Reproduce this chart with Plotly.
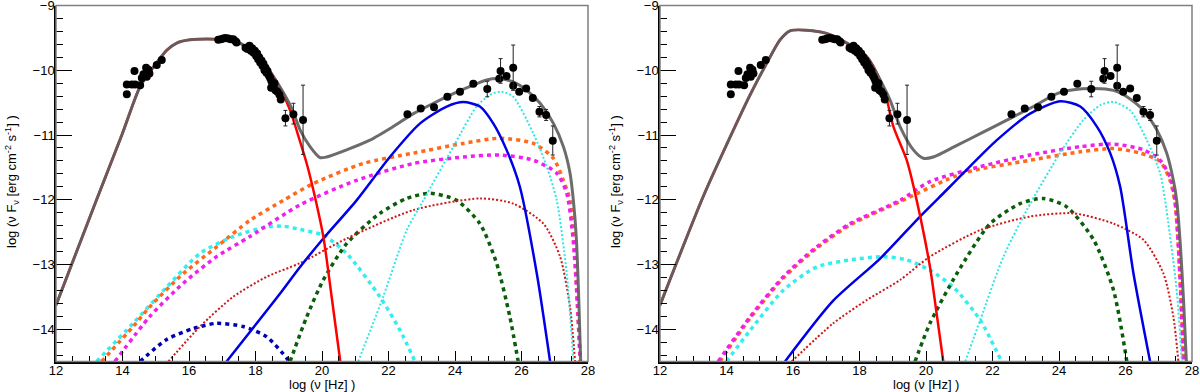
import plotly.graph_objects as go

# ---------------- observed SED points (same in both panels) ----------------
opt_x = [14.13, 14.13, 14.28, 14.38, 14.36, 14.53, 14.58, 14.63, 14.71, 14.73, 14.81, 14.78, 15.03, 15.18]
opt_y = [-10.37, -10.22, -10.22, -10.22, -10.01, -10.23, -10.12, -10.06, -9.96, -10.10, -10.05, -9.99, -9.92, -9.84]

xray_x = [16.88, 16.96, 17.03, 17.10, 17.18, 17.26, 17.33, 17.40, 17.43,
          17.70, 17.76, 17.82, 17.86, 17.90, 17.94, 17.98, 18.02, 18.05, 18.08,
          18.11, 18.14, 18.18, 18.21, 18.24, 18.27, 18.30, 18.33, 18.36, 18.40,
          18.44, 18.48, 18.52, 18.47, 18.55, 18.60, 18.66, 18.72, 18.76, 18.57]
xray_y = [-9.53, -9.52, -9.51, -9.50, -9.51, -9.52, -9.52, -9.55, -9.57,
          -9.65, -9.67, -9.62, -9.70, -9.66, -9.73, -9.70, -9.78, -9.74, -9.83,
          -9.80, -9.88, -9.85, -9.93, -9.90, -10.00, -9.96, -10.04, -10.01, -10.08,
          -10.12, -10.17, -10.22, -10.27, -10.27, -10.31, -10.33, -10.38, -10.45, -10.20]

hx_x = [18.90, 19.14, 19.43]
hx_y = [-10.74, -10.68, -10.77]
hx_up = [0.12, 0.17, 0.54]
hx_dn = [0.12, 0.15, 0.53]

gam_x = [22.57, 22.97, 23.37, 23.77, 24.15, 24.55, 25.33, 25.55, 25.75, 25.93, 26.14, 26.34]
gam_y = [-10.68, -10.59, -10.57, -10.41, -10.33, -10.21, -10.13, -10.09, -10.24, -10.33, -10.28, -10.43]

gam_err_x = [24.97, 25.37, 25.75, 26.54, 26.74, 26.94]
gam_err_y = [-10.29, -10.01, -9.96, -10.64, -10.69, -11.09]
gam_up = [0.12, 0.19, 0.35, 0.08, 0.085, 0.23]
gam_dn = [0.12, 0.19, 0.35, 0.08, 0.085, 0.22]

# ---------------- left panel model curves ----------------
L_total_x = [12, 13.22, 13.98, 14.53, 14.93, 15.33, 15.63, 16.03, 16.83, 17.13, 17.53, 18.14, 18.64,
             19.09, 19.34, 19.64, 19.94, 20.14, 20.74, 21.44, 22.14, 22.75, 23.35, 23.95, 24.55,
             24.95, 25.35, 25.75, 26.16, 26.56, 26.96, 27.26, 27.46, 27.56, 27.65, 27.72, 27.78]
L_total_y = [-13.63, -12.0, -11.0, -10.25, -9.95, -9.69, -9.58, -9.53, -9.52, -9.53, -9.58, -9.82, -10.18,
             -10.59, -10.92, -11.18, -11.35, -11.34, -11.23, -11.08, -10.87, -10.67, -10.51, -10.36, -10.23,
             -10.15, -10.13, -10.18, -10.31, -10.51, -10.82, -11.18, -11.59, -12.01, -12.6, -13.5, -14.5]

L_sync_x = [12, 13.22, 13.98, 14.53, 14.93, 15.33, 15.63, 16.03, 16.83, 17.13, 17.53, 18.14, 18.64,
            19.04, 19.34, 19.54, 19.74, 20.04, 20.29, 20.55]
L_sync_y = [-13.63, -12.0, -11.0, -10.25, -9.95, -9.69, -9.58, -9.53, -9.52, -9.53, -9.58, -9.82, -10.18,
            -10.62, -11.10, -11.44, -11.85, -12.57, -13.50, -14.5]

L_ssc_x = [17.13, 18.74, 19.34, 20.04, 21.04, 22.04, 22.95, 23.75, 24.25, 24.75, 25.15, 25.55, 25.95, 26.46, 26.86]
L_ssc_y = [-14.5, -13.45, -13.04, -12.60, -12.01, -11.34, -10.82, -10.56, -10.49, -10.56, -10.82, -11.23, -11.80, -13.14, -14.5]

L_cdot_x = [21.09, 21.84, 22.55, 23.05, 23.95, 24.65, 25.05, 25.40, 25.75, 26.36, 26.76, 27.06, 27.36, 27.56]
L_cdot_y = [-14.5, -13.50, -12.47, -12.01, -11.18, -10.56, -10.38, -10.33, -10.41, -10.98, -11.49, -12.01, -13.14, -14.5]

L_orange_x = [13.37, 14.32, 14.83, 15.83, 16.83, 17.83, 18.84, 19.74, 21.24, 22.75, 24.25, 25.35, 26.36,
              26.96, 27.26, 27.46, 27.6, 27.7, 27.76]
L_orange_y = [-14.5, -13.96, -13.65, -13.14, -12.73, -12.32, -12.01, -11.75, -11.44, -11.28, -11.13, -11.05, -11.13,
              -11.36, -11.70, -12.01, -12.8, -13.8, -14.5]

L_magenta_x = [13.77, 14.83, 15.83, 16.83, 17.83, 19.34, 21.04, 22.75, 24.25, 25.35, 26.36, 27.06, 27.36,
               27.55, 27.68, 27.77]
L_magenta_y = [-14.5, -13.80, -13.29, -12.88, -12.57, -12.08, -11.70, -11.44, -11.34, -11.31, -11.39, -11.59, -11.90,
               -12.6, -13.6, -14.5]

L_cdash_x = [13.22, 14.32, 15.33, 16.33, 17.33, 18.34, 18.84, 19.34, 20.04, 20.74, 21.74, 22.35, 22.80]
L_cdash_y = [-14.5, -13.91, -13.35, -12.83, -12.57, -12.42, -12.41, -12.46, -12.55, -12.83, -13.50, -14.02, -14.5]

L_bdash_x = [14.53, 15.33, 16.13, 16.83, 17.63, 18.34, 18.94, 19.0]
L_bdash_y = [-14.5, -14.16, -13.99, -13.91, -13.96, -14.12, -14.45, -14.5]

L_green_x = [19.04, 19.54, 20.04, 20.74, 21.74, 22.55, 23.25, 24.05, 24.75, 25.25, 25.65, 25.90]
L_green_y = [-14.5, -13.81, -13.24, -12.68, -12.21, -11.98, -11.90, -12.01, -12.37, -12.98, -13.81, -14.5]

L_rdot_x = [15.38, 16.33, 17.33, 18.34, 19.34, 20.74, 22.75, 24.75, 25.75, 26.66, 27.16, 27.46, 27.61]
L_rdot_y = [-14.5, -13.96, -13.50, -13.19, -12.98, -12.60, -12.16, -11.98, -12.06, -12.37, -12.88, -13.66, -14.5]

# ---------------- right panel model curves ----------------
R_total_x = [12, 13.30, 14.21, 14.71, 15.21, 15.61, 15.91, 16.41, 17.01, 17.62, 18.22, 18.62, 18.92,
             19.22, 19.62, 19.92, 20.22, 20.93, 21.63, 22.43, 23.23, 23.94, 24.44, 25.04, 25.64,
             26.04, 26.54, 26.94, 27.24, 27.44, 27.54, 27.65, 27.75, 27.83]
R_total_y = [-13.63, -11.95, -10.92, -10.38, -9.89, -9.53, -9.39, -9.38, -9.43, -9.58, -9.79, -10.15, -10.46,
             -10.87, -11.23, -11.36, -11.34, -11.16, -10.98, -10.77, -10.56, -10.36, -10.30, -10.28, -10.31,
             -10.41, -10.62, -10.92, -11.28, -11.70, -12.01, -12.7, -13.6, -14.5]

R_sync_x = [12, 13.30, 14.21, 14.71, 15.21, 15.61, 15.91, 16.41, 17.01, 17.62, 18.22, 18.62,
            18.82, 19.02, 19.42, 19.72, 20.12, 20.32, 20.52]
R_sync_y = [-13.63, -11.95, -10.92, -10.38, -9.89, -9.53, -9.39, -9.38, -9.43, -9.58, -9.79, -10.15,
            -10.45, -10.87, -11.39, -12.01, -13.04, -13.76, -14.5]

R_ssc_x = [15.76, 17.21, 18.62, 19.82, 20.62, 21.12, 22.13, 23.13, 24.03, 24.64, 25.14, 25.54, 25.84, 26.24, 26.74]
R_ssc_y = [-14.5, -13.56, -12.91, -12.26, -11.85, -11.59, -11.08, -10.67, -10.48, -10.56, -10.87, -11.28, -11.80, -13.14, -14.5]

R_cdot_x = [21.18, 21.63, 22.33, 23.03, 24.03, 24.73, 25.24, 25.64, 26.14, 26.64, 27.04, 27.19, 27.54, 27.69]
R_cdot_y = [-14.5, -13.86, -12.88, -12.16, -11.28, -10.77, -10.54, -10.49, -10.62, -11.08, -11.59, -12.01, -13.40, -14.5]

R_magenta_x = [13.75, 14.71, 15.71, 16.71, 17.72, 19.22, 20.12, 21.63, 23.13, 24.64, 25.64, 26.54, 27.04,
               27.34, 27.49, 27.62, 27.74]
R_magenta_y = [-14.5, -13.81, -13.19, -12.73, -12.37, -12.01, -11.72, -11.49, -11.31, -11.18, -11.14, -11.23, -11.39,
               -11.65, -12.01, -13.0, -14.5]

R_orange_x = [13.80, 14.71, 15.71, 16.71, 17.72, 19.22, 21.12, 23.13, 24.64, 25.64, 26.44, 27.04, 27.34,
              27.49, 27.62, 27.75]
R_orange_y = [-14.5, -13.83, -13.21, -12.75, -12.39, -12.03, -11.59, -11.39, -11.26, -11.21, -11.28, -11.41, -11.70,
              -12.05, -13.0, -14.5]

R_cdash_x = [14.0, 14.71, 15.71, 16.71, 17.72, 18.72, 19.42, 20.12, 20.82, 21.63, 22.27]
R_cdash_y = [-14.5, -14.02, -13.40, -13.04, -12.93, -12.88, -12.93, -13.09, -13.35, -13.86, -14.5]

R_green_x = [19.67, 20.12, 20.93, 21.93, 22.83, 23.53, 24.23, 25.04, 25.64, 26.04]
R_green_y = [-14.5, -13.91, -13.14, -12.37, -12.06, -11.98, -12.11, -12.62, -13.40, -14.5]

R_rdot_x = [15.96, 17.21, 18.22, 19.22, 20.12, 21.63, 23.13, 24.43, 25.64, 26.54, 27.14, 27.44, 27.59]
R_rdot_y = [-14.5, -13.91, -13.55, -13.24, -12.88, -12.47, -12.26, -12.21, -12.37, -12.62, -13.14, -13.81, -14.5]

FONT = "Liberation Sans, Arial, sans-serif"
GRAY = "#606060"
DOTS = "4px,4px"
FINE = "2px,2px"

fig = go.Figure()


def add_curve(x, y, color, width, dash, ax, opacity=1.0):
    fig.add_trace(go.Scatter(
        x=x, y=y, mode="lines", opacity=opacity, hoverinfo="skip", showlegend=False,
        line=dict(color=color, width=width, dash=dash, shape="spline", smoothing=0.7),
        xaxis=ax[0], yaxis=ax[1]))


def add_points(ax):
    pt = dict(color="black", size=8, symbol="circle")
    for xs, ys in [(opt_x, opt_y), (xray_x, xray_y), (gam_x, gam_y)]:
        fig.add_trace(go.Scatter(x=xs, y=ys, mode="markers", marker=pt, showlegend=False,
                                 xaxis=ax[0], yaxis=ax[1]))
    for xs, ys, up, dn in [(hx_x, hx_y, hx_up, hx_dn), (gam_err_x, gam_err_y, gam_up, gam_dn)]:
        fig.add_trace(go.Scatter(
            x=xs, y=ys, mode="markers", marker=pt, showlegend=False,
            error_y=dict(type="data", array=up, arrayminus=dn, color="#222", thickness=1, width=2),
            xaxis=ax[0], yaxis=ax[1]))


# left panel
axL = ("x", "y")
add_curve(L_bdash_x, L_bdash_y, "#0000b4", 3.5, DOTS, axL)
add_curve(L_cdash_x, L_cdash_y, "#33eeee", 3.5, DOTS, axL)
add_curve(L_orange_x, L_orange_y, "#ff6a1a", 3.5, DOTS, axL)
add_curve(L_magenta_x, L_magenta_y, "#f020f0", 3.5, DOTS, axL)
add_curve(L_green_x, L_green_y, "#0b5e0b", 3.5, DOTS, axL)
add_curve(L_rdot_x, L_rdot_y, "#d01818", 2, FINE, axL)
add_curve(L_cdot_x, L_cdot_y, "#33e6e6", 2, FINE, axL)
add_curve(L_ssc_x, L_ssc_y, "#0000e6", 2.5, "solid", axL)
add_curve(L_sync_x, L_sync_y, "#ff0000", 2.5, "solid", axL)
add_curve(L_total_x, L_total_y, GRAY, 3, "solid", axL, opacity=0.92)
add_points(axL)

# right panel
axR = ("x2", "y2")
add_curve(R_cdash_x, R_cdash_y, "#33eeee", 3.5, DOTS, axR)
add_curve(R_orange_x, R_orange_y, "#ff6a1a", 3.5, DOTS, axR)
add_curve(R_magenta_x, R_magenta_y, "#f020f0", 3.5, DOTS, axR)
add_curve(R_green_x, R_green_y, "#0b5e0b", 3.5, DOTS, axR)
add_curve(R_rdot_x, R_rdot_y, "#d01818", 2, FINE, axR)
add_curve(R_cdot_x, R_cdot_y, "#33e6e6", 2, FINE, axR)
add_curve(R_ssc_x, R_ssc_y, "#0000e6", 2.5, "solid", axR)
add_curve(R_sync_x, R_sync_y, "#ff0000", 2.5, "solid", axR)
add_curve(R_total_x, R_total_y, GRAY, 3, "solid", axR, opacity=0.92)
add_points(axR)

W, H = 1200, 392
ydom = [1 - 361.5 / H, 1 - 5.5 / H]
doms = {"": [56 / W, 588 / W], "2": [660 / W, 1192 / W]}

xcommon = dict(range=[12, 28], tickmode="linear", tick0=12, dtick=2, ticks="inside", ticklen=11,
               tickcolor="black", showline=True, linecolor="black", linewidth=1.5, automargin=False,
               ticklabeloverflow="allow", ticklabelstandoff=-4,
               showgrid=False, zeroline=False, tickfont=dict(family=FONT, size=13, color="black"),
               minor=dict(dtick=0.5, ticklen=5.5, ticks="inside", tickcolor="black", showgrid=False))
ycommon = dict(range=[-14.5, -8.999], tickmode="linear", tick0=-9, dtick=1, ticks="inside", ticklen=16,
               tickcolor="black", showline=True, linecolor="black", linewidth=1.5, automargin=False,
               ticklabeloverflow="allow", ticklabelstandoff=-3,
               showgrid=False, zeroline=False, tickfont=dict(family=FONT, size=13, color="black"),
               minor=dict(dtick=0.2, ticklen=7.5, ticks="inside", tickcolor="black", showgrid=False))

layout = dict(width=W, height=H, margin=dict(l=0, r=0, t=0, b=0, autoexpand=False),
              paper_bgcolor="white", plot_bgcolor="white", showlegend=False)
for s, d in doms.items():
    layout["xaxis" + s] = dict(xcommon, domain=d, anchor="y" + s)
    layout["yaxis" + s] = dict(ycommon, domain=ydom, anchor="x" + s)
fig.update_layout(**layout)

ytitle = "log (\u03bd F<sub>\u03bd</sub> [erg cm<sup>-2</sup> s<sup>-1</sup>] )"
xtitle = "log (\u03bd [Hz] )"
for s, d in doms.items():
    fig.add_shape(type="rect", xref="x%s domain" % s, yref="y%s domain" % s, x0=0, x1=1, y0=0, y1=1,
                  line=dict(color="#7f7f7f", width=1.5), layer="above")
    fig.add_annotation(text=xtitle, xref="paper", yref="paper", x=(d[0] + d[1]) / 2, y=1 - 384 / H,
                       xanchor="center", yanchor="middle",
                       showarrow=False, font=dict(family=FONT, size=13, color="black"))
    fig.add_annotation(text=ytitle, xref="paper", yref="paper", x=(d[0] * W - 44) / W, y=1 - 182 / H,
                       xanchor="center", yanchor="middle",
                       textangle=-90, showarrow=False, font=dict(family=FONT, size=13, color="black"))

# the page body keeps an 8px default margin; drop it so the figure sits at the window corner
fig.write_html("out.html", config={"displayModeBar": False},
               post_script="document.body.style.margin='0';")
